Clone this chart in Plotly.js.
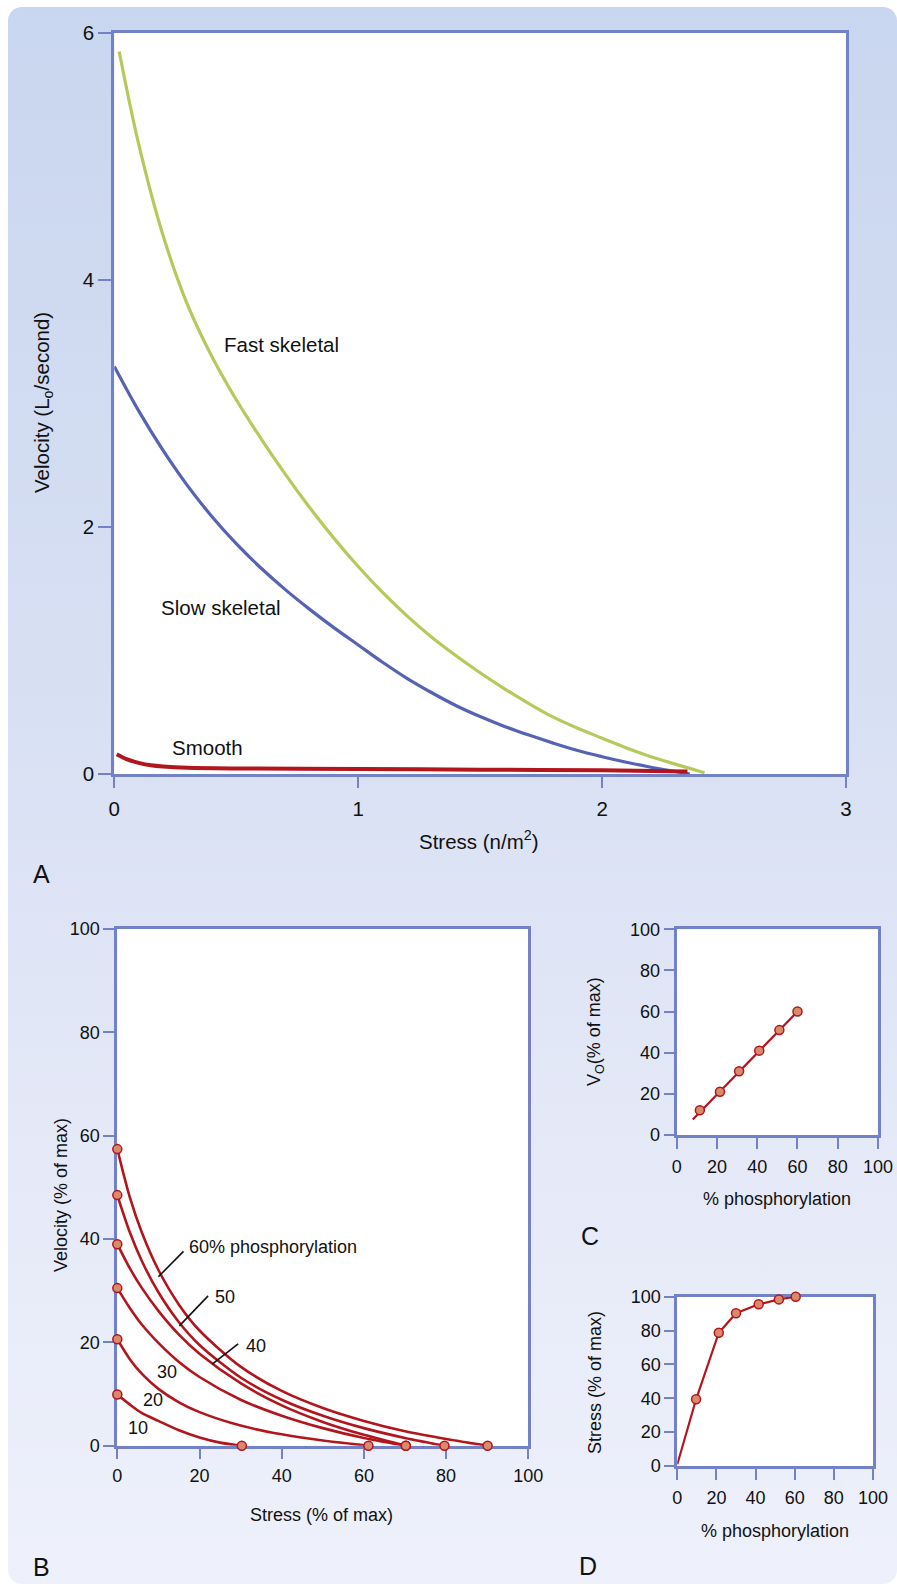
<!DOCTYPE html>
<html><head><meta charset="utf-8">
<script src="https://cdn.plot.ly/plotly-3.0.1.min.js"></script>
<style>
html,body{margin:0;padding:0;background:#fff;}
#bg{position:absolute;left:8px;top:7px;width:889px;height:1577px;border-radius:14px;
background:linear-gradient(to bottom,#c9d6ef 0%,#d8e0f3 45%,#e6eaf8 75%,#eef1fb 100%);}
#plot{position:absolute;left:0;top:0;width:897px;height:1586px;}
</style></head><body><div id="bg"></div><div id="plot"></div>
<script>
// ---------- Panel A: velocity (Lo/s) vs stress (n/m2) ----------
const fastStress   = [0.02, 0.10, 0.20, 0.30, 0.40, 0.50, 0.60, 0.70, 0.80, 0.90, 1.00, 1.10, 1.20, 1.30, 1.40, 1.50, 1.60, 1.70, 1.80, 1.90, 2.00, 2.10, 2.20, 2.30, 2.42];
const fastVelocity = [5.85, 5.10, 4.36, 3.80, 3.38, 3.03, 2.72, 2.43, 2.16, 1.91, 1.68, 1.47, 1.28, 1.11, 0.96, 0.82, 0.69, 0.57, 0.46, 0.37, 0.29, 0.21, 0.14, 0.08, 0.01];
const slowStress   = [0.00, 0.10, 0.20, 0.30, 0.40, 0.50, 0.60, 0.70, 0.80, 0.90, 1.00, 1.10, 1.20, 1.30, 1.40, 1.50, 1.60, 1.70, 1.80, 1.90, 2.00, 2.10, 2.20, 2.30, 2.36];
const slowVelocity = [3.30, 2.94, 2.62, 2.335, 2.085, 1.865, 1.67, 1.495, 1.335, 1.185, 1.045, 0.905, 0.775, 0.66, 0.555, 0.465, 0.385, 0.315, 0.25, 0.19, 0.14, 0.095, 0.055, 0.02, 0.00];
const smoothStress   = [0.01, 0.05, 0.10, 0.15, 0.20, 0.30, 0.50, 1.00, 1.50, 2.00, 2.35];
const smoothVelocity = [0.16, 0.12, 0.09, 0.07, 0.06, 0.05, 0.045, 0.04, 0.035, 0.03, 0.02];

// ---------- Panel B: velocity vs stress (% of max) at each % phosphorylation ----------
const b60Stress = [0, 3, 6, 10, 15, 20, 30, 40, 50, 60, 70, 80, 90.1];
const b60Vel    = [57.4, 48.2, 41.2, 34.0, 27.3, 22.3, 15.3, 10.6, 7.3, 4.8, 2.8, 1.3, 0];
const b50Stress = [0, 3, 6, 10, 15, 20, 30, 40, 50, 60, 70, 79.6];
const b50Vel    = [48.5, 41.4, 35.7, 29.7, 23.9, 19.5, 13.2, 8.9, 5.8, 3.4, 1.5, 0];
const b40Stress = [0, 3, 6, 10, 15, 20, 30, 40, 50, 60, 70.2];
const b40Vel    = [39.0, 34.4, 30.5, 26.1, 21.5, 17.8, 12.1, 7.8, 4.6, 2.1, 0];
const b30Stress = [0, 3, 6, 10, 15, 20, 30, 40, 50, 60, 70.2];
const b30Vel    = [30.5, 26.7, 23.4, 19.9, 16.2, 13.3, 8.9, 5.8, 3.4, 1.5, 0];
const b20Stress = [0, 3, 6, 10, 15, 20, 30, 40, 50, 61.1];
const b20Vel    = [20.6, 16.8, 13.9, 11.0, 8.4, 6.5, 3.9, 2.2, 1.0, 0];
const b10Stress = [0, 3, 6, 10, 15, 20, 25, 30.3];
const b10Vel    = [9.9, 8.0, 6.3, 4.8, 3.0, 1.6, 0.6, 0];

// ---------- Panel C: Vo vs % phosphorylation ----------
const cPhos = [11.5, 21.5, 31, 41, 51, 60];
const cVo   = [12, 21, 31, 41, 51, 60];
const cFitPhos = [8, 60];
const cFitVo   = [7.5, 60];

// ---------- Panel D: stress vs % phosphorylation ----------
const dPhos   = [0, 9.6, 21.2, 30, 41.6, 51.9, 60.5];
const dStress = [1, 39.4, 78.7, 90.2, 95.5, 98.4, 100];

// tick values
const aXTicks = [0, 1, 2, 3];
const aYTicks = [0, 2, 4, 6];
const pctTicks = [0, 20, 40, 60, 80, 100];

// ---------- styles ----------
const AX = '#7382c6';
const RED = '#b3151d';
const DOT = '#d98a6b';
const F = 'Liberation Sans, Arial, Helvetica, sans-serif';

const bSeries = [[b60Stress,b60Vel],[b50Stress,b50Vel],[b40Stress,b40Vel],[b30Stress,b30Vel],[b20Stress,b20Vel],[b10Stress,b10Vel]];

const traces = [
  {x: fastStress, y: fastVelocity, mode:'lines', line:{color:'#b6c95b', width:3.2, shape:'spline', smoothing:1}, xaxis:'x', yaxis:'y', name:'Fast skeletal'},
  {x: slowStress, y: slowVelocity, mode:'lines', line:{color:'#5663b4', width:3.2, shape:'spline', smoothing:1}, xaxis:'x', yaxis:'y', name:'Slow skeletal'},
  {x: smoothStress, y: smoothVelocity, mode:'lines', line:{color:RED, width:4, shape:'spline', smoothing:0.7}, xaxis:'x', yaxis:'y', name:'Smooth'},
];
bSeries.forEach(function(s){
  traces.push({x:s[0], y:s[1], mode:'lines', line:{color:RED, width:2.6, shape:'spline', smoothing:0.8}, xaxis:'x2', yaxis:'y2', cliponaxis:false});
});
const bDotX = [], bDotY = [];
bSeries.forEach(function(s){
  bDotX.push(s[0][0]); bDotY.push(s[1][0]);
  bDotX.push(s[0][s[0].length-1]); bDotY.push(s[1][s[1].length-1]);
});
traces.push({x:bDotX, y:bDotY, mode:'markers', marker:{color:DOT, size:9, line:{color:RED, width:1.5}}, xaxis:'x2', yaxis:'y2', cliponaxis:false});
traces.push({x:cFitPhos, y:cFitVo, mode:'lines', line:{color:RED, width:2.2}, xaxis:'x3', yaxis:'y3'});
traces.push({x:cPhos, y:cVo, mode:'markers', marker:{color:DOT, size:9, line:{color:RED, width:1.5}}, xaxis:'x3', yaxis:'y3', cliponaxis:false});
traces.push({x:dPhos, y:dStress, mode:'lines', line:{color:RED, width:2.2}, xaxis:'x4', yaxis:'y4', cliponaxis:false});
traces.push({x:dPhos.slice(1), y:dStress.slice(1), mode:'markers', marker:{color:DOT, size:9, line:{color:RED, width:1.5}}, xaxis:'x4', yaxis:'y4', cliponaxis:false});

function ax(o){
  return Object.assign({showline:true, linecolor:AX, linewidth:3, mirror:true, ticks:'outside', tickcolor:AX, tickwidth:2,
    showgrid:false, zeroline:false, fixedrange:true, layer:'below traces', tickfont:{family:F, size:18, color:'#111'}}, o);
}
const W = 897, H = 1586;
function px(v){return v/W;} function py(v){return 1 - v/H;}

const layout = {
  width:W, height:H, margin:{l:0,r:0,t:0,b:0}, paper_bgcolor:'rgba(0,0,0,0)', plot_bgcolor:'#ffffff',
  showlegend:false, font:{family:F, color:'#111'},
  xaxis: ax({domain:[px(114.3), px(846)], range:[0,3], tickvals:aXTicks, ticklen:11, ticklabelstandoff:3, tickfont:{family:F,size:20.5,color:'#111'}, anchor:'y'}),
  yaxis: ax({domain:[py(774), py(33)], range:[0,6], tickvals:aYTicks, ticklen:13, tickfont:{family:F,size:20.5,color:'#111'}, anchor:'x'}),
  xaxis2: ax({domain:[px(117.3), px(528.3)], range:[0,100], tickvals:pctTicks, ticklen:10, ticklabelstandoff:2, anchor:'y2'}),
  yaxis2: ax({domain:[py(1445.7), py(929)], range:[0,100], tickvals:pctTicks, ticklen:11, anchor:'x2'}),
  xaxis3: ax({domain:[px(676.7), px(878)], range:[0,100], tickvals:pctTicks, ticklen:11, ticklabelstandoff:2, anchor:'y3'}),
  yaxis3: ax({domain:[py(1135), py(929.3)], range:[0,100], tickvals:pctTicks, ticklen:10, anchor:'x3'}),
  xaxis4: ax({domain:[px(677.3), px(873)], range:[0,100], tickvals:pctTicks, ticklen:11, ticklabelstandoff:2, anchor:'y4'}),
  yaxis4: ax({domain:[py(1466), py(1296.7)], range:[0,100], tickvals:pctTicks, ticklen:10, anchor:'x4'}),
  shapes: [
    {type:'line', xref:'x2', yref:'y2', x0:16.1, y0:37.6, x1:10.0, y1:32.7, line:{color:'#111', width:1.6}},
    {type:'line', xref:'x2', yref:'y2', x0:22.1, y0:29.0, x1:15.1, y1:23.2, line:{color:'#111', width:1.6}},
    {type:'line', xref:'x2', yref:'y2', x0:29.4, y0:19.7, x1:23.1, y1:15.8, line:{color:'#111', width:1.6}}
  ],
  annotations: []
};
function note(text, x, y, size, opts){
  layout.annotations.push(Object.assign({text:text, x:px(x), y:py(y), xref:'paper', yref:'paper', showarrow:false,
    xanchor:'center', yanchor:'middle', font:{family:F, size:size, color:'#111'}}, opts||{}));
}
// axis titles
note('Velocity (L<sub>o</sub>/second)', 43, 403, 20.5, {textangle:-90});
note('Stress (n/m<sup>2</sup>)', 479, 840, 20.5);
note('Velocity (% of max)', 61, 1195, 18, {textangle:-90});
note('Stress (% of max)', 321.6, 1515, 18);
note('V<sub>O</sub>(% of max)', 595, 1032, 18, {textangle:-90});
note('% phosphorylation', 777, 1199, 18);
note('Stress (% of max)', 595, 1383, 18, {textangle:-90});
note('% phosphorylation', 775, 1531, 18);
// panel letters
note('A', 41.3, 874, 25); note('B', 41.7, 1567, 25); note('C', 590, 1236, 25); note('D', 588.3, 1566, 25);
// curve labels
function dnote(text, x, y, xr, yr, size, anchor){
  layout.annotations.push({text:text, x:x, y:y, xref:xr, yref:yr, showarrow:false, xanchor:anchor||'left', yanchor:'middle',
    font:{family:F, size:size, color:'#111'}});
}
dnote('Fast skeletal', 0.44, 3.48, 'x', 'y', 20.5);
dnote('Slow skeletal', 0.182, 1.35, 'x', 'y', 20.5);
dnote('Smooth', 0.228, 0.215, 'x', 'y', 20.5);
dnote('60% phosphorylation', 16.9, 38.5, 'x2', 'y2', 18);
dnote('50', 23.4, 28.8, 'x2', 'y2', 18);
dnote('40', 30.9, 19.2, 'x2', 'y2', 18);
dnote('30', 12.0, 14.3, 'x2', 'y2', 18, 'center');
dnote('20', 8.8, 8.85, 'x2', 'y2', 18, 'center');
dnote('10', 5.0, 3.4, 'x2', 'y2', 18, 'center');

Plotly.newPlot('plot', traces, layout, {displayModeBar:false, staticPlot:true});
</script></body></html>
